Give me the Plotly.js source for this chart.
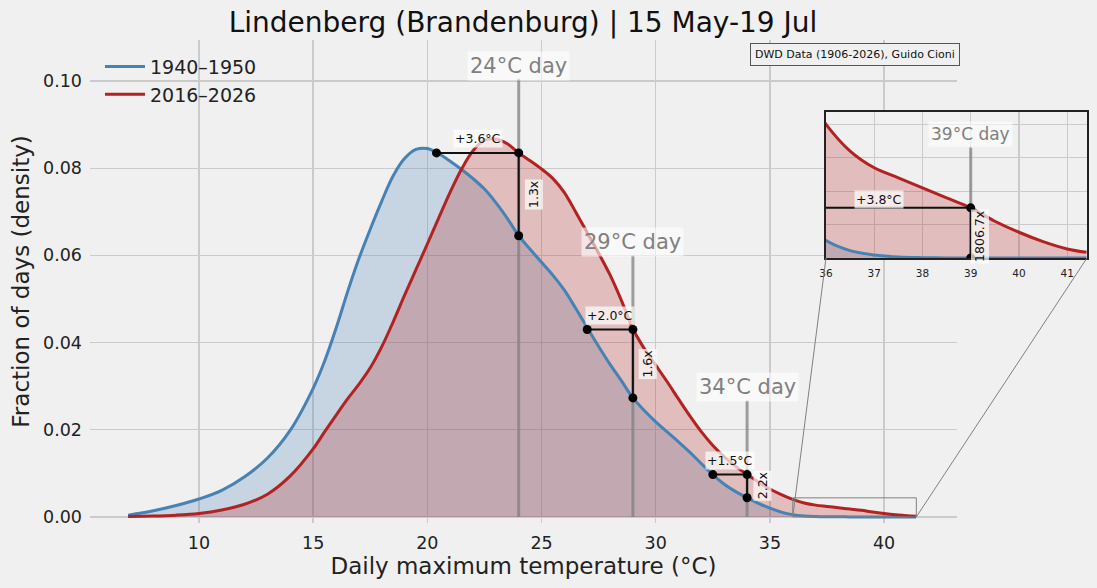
<!DOCTYPE html>
<html>
<head>
<meta charset="utf-8">
<script src="https://cdn.plot.ly/plotly-3.0.1.min.js"></script>
<style>
  html, body { margin: 0; padding: 0; background: #f0f0f0; }
  #chart { width: 1097px; height: 588px; }
</style>
</head>
<body>
<div id="chart"></div>
<script>
// ---------------- DATA ----------------
const tempGrid = [6.9, 8, 9, 10, 11, 12, 13, 14,
  15, 15.5, 16, 16.5, 17, 17.5, 18, 18.5, 19, 19.5, 20, 20.5, 21, 21.5, 22, 22.5,
  23, 23.5, 24, 24.5, 25, 25.5, 26, 26.5, 27, 27.5, 28, 28.5, 29, 29.5, 30, 30.5,
  31, 31.5, 32, 32.5, 33, 33.5, 34, 34.5, 35, 35.5, 36, 36.5, 37, 37.5, 38, 38.5,
  39, 39.5, 40, 40.5, 41, 41.4];

const density1940 = [0.0004, 0.0014, 0.0026, 0.0041, 0.0061, 0.0092, 0.0135, 0.0199,
  0.0295, 0.0357, 0.0432, 0.0515, 0.0592, 0.0660, 0.0724, 0.0782, 0.0822, 0.0843, 0.0845, 0.0833, 0.0816, 0.0797, 0.0776, 0.0752,
  0.0721, 0.0685, 0.0645, 0.0614, 0.0584, 0.0554, 0.0520, 0.0478, 0.0434, 0.0391, 0.0350, 0.0312, 0.0273, 0.0244, 0.0218, 0.0195,
  0.0172, 0.0148, 0.0122, 0.0097, 0.0075, 0.0058, 0.0044, 0.0031, 0.0020, 0.0011, 0.00052, 0.00022, 0.00009, 0.00003, 0.00001, 0.000003,
  0.000001, 0, 0, 0, 0, 0];

const density2016 = [0.0001, 0.0002, 0.0004, 0.0008, 0.0016, 0.0029, 0.0052, 0.0094,
  0.0156, 0.0195, 0.0233, 0.0270, 0.0304, 0.0342, 0.0390, 0.0447, 0.0508, 0.0567, 0.0626, 0.0686, 0.0745, 0.0798, 0.0840, 0.0864,
  0.0867, 0.0856, 0.0835, 0.0817, 0.0798, 0.0776, 0.0744, 0.0699, 0.0652, 0.0605, 0.0555, 0.0496, 0.0431, 0.0386, 0.0348, 0.0310,
  0.0270, 0.0231, 0.0195, 0.0164, 0.0138, 0.0116, 0.0097, 0.0080, 0.0064, 0.0051, 0.0040, 0.0032, 0.0027, 0.0024, 0.0021, 0.0018,
  0.0015, 0.0011, 0.00077, 0.00049, 0.00027, 0.00017];

const seriesNames = ['1940\u20131950', '2016\u20132026'];

const dayTemps     = [24, 29, 34, 39];
const shiftedTemps = [20.4, 27.0, 32.5, 35.2];
const redAtDay     = [0.0835, 0.0430, 0.0097, 0.0015];
const blueAtDay    = [0.0645, 0.0273, 0.0044, 0.00000083];
const shiftLabels  = ['+3.6°C', '+2.0°C', '+1.5°C', '+3.8°C'];
const ratioLabels  = ['1.3x', '1.6x', '2.2x', '1806.7x'];

const mainTicks  = [10, 15, 20, 25, 30, 35, 40];
const insetTicks = [36, 37, 38, 39, 40, 41];

// ---------------- STYLE / LAYOUT CONSTANTS ----------------
const FONT = 'DejaVu Sans';
const BLUE = '#4682b4', RED = '#b22222';
const BLUE_FILL = 'rgba(70,130,180,0.25)', RED_FILL = 'rgba(178,34,34,0.25)';
const GRID = '#cbcbcb';
const SMOOTH = 1.0;
const xMainRange = [5.23, 43.19], yMainRange = [-0.0014, 0.1094];
const xMainDom = [0, 0.8696], yMainDom = [0, 1];
const xInsetRange = [36, 41.41], yInsetRange = [0, 0.00437];
const xInsetDom = [0.7382, 1.0], yInsetDom = [0.5487, 0.851];

function paperX(v) { return xMainDom[0] + (v - xMainRange[0]) / (xMainRange[1] - xMainRange[0]) * (xMainDom[1] - xMainDom[0]); }
function paperY(v) { return yMainDom[0] + (v - yMainRange[0]) / (yMainRange[1] - yMainRange[0]) * (yMainDom[1] - yMainDom[0]); }

const traces = [];
function curveTraces(xa, ya, legend) {
  const out = [];
  out.push({x: tempGrid, y: density1940, xaxis: xa, yaxis: ya, type: 'scatter', mode: 'lines',
    line: {width: 0, shape: 'spline', smoothing: SMOOTH}, fill: 'tozeroy', fillcolor: BLUE_FILL,
    hoverinfo: 'skip', showlegend: false});
  out.push({x: tempGrid, y: density2016, xaxis: xa, yaxis: ya, type: 'scatter', mode: 'lines',
    line: {width: 0, shape: 'spline', smoothing: SMOOTH}, fill: 'tozeroy', fillcolor: RED_FILL,
    hoverinfo: 'skip', showlegend: false});
  out.push({x: tempGrid, y: density1940, xaxis: xa, yaxis: ya, type: 'scatter', mode: 'lines',
    name: seriesNames[0], line: {color: BLUE, width: 3, shape: 'spline', smoothing: SMOOTH},
    showlegend: legend, legendgroup: 'a'});
  out.push({x: tempGrid, y: density2016, xaxis: xa, yaxis: ya, type: 'scatter', mode: 'lines',
    name: seriesNames[1], line: {color: RED, width: 3, shape: 'spline', smoothing: SMOOTH},
    showlegend: legend, legendgroup: 'b'});
  return out;
}
traces.push(...curveTraces('x', 'y', true));
traces.push(...curveTraces('x2', 'y2', false));

const annotations = [];
dayTemps.forEach((T, i) => {
  const inset = (i === 3);
  const xa = inset ? 'x2' : 'x', ya = inset ? 'y2' : 'y';
  const off = inset ? 0.0018 : 0.017;
  const lab = inset ? 0.0004 : 0.003;
  const top = redAtDay[i] + off;
  traces.push({x: [T, T], y: [0, top], xaxis: xa, yaxis: ya, type: 'scatter', mode: 'lines',
    line: {color: 'rgba(128,128,128,0.75)', width: 3}, showlegend: false, hoverinfo: 'skip'});
  traces.push({x: [shiftedTemps[i], T, T], y: [redAtDay[i], redAtDay[i], blueAtDay[i]],
    xaxis: xa, yaxis: ya, type: 'scatter', mode: 'lines+markers',
    line: {color: '#111', width: 2}, marker: {color: '#000', size: 9},
    showlegend: false, hoverinfo: 'skip'});
  annotations.push({x: T, y: top + lab, xref: xa, yref: ya, text: T + '°C day', showarrow: false,
    xanchor: 'center', yanchor: 'middle',
    font: {family: FONT, size: inset ? 17 : 21, color: '#808080'},
    bgcolor: 'rgba(255,255,255,0.6)', borderpad: 2});
  annotations.push({x: (shiftedTemps[i] + T) / 2, y: redAtDay[i], xref: xa, yref: ya,
    text: shiftLabels[i], showarrow: false, yshift: inset ? 8 : 14, xanchor: 'center', yanchor: 'middle',
    font: {family: FONT, size: 12.5, color: '#111'}, bgcolor: 'rgba(255,255,255,0.7)', borderpad: 1});
  annotations.push({x: T, y: (redAtDay[i] + blueAtDay[i]) / 2 - (inset ? 0.0001 : 0), xref: xa, yref: ya,
    text: ratioLabels[i], showarrow: false, xshift: inset ? 9 : 15, textangle: -90,
    xanchor: 'center', yanchor: 'middle',
    font: {family: FONT, size: 12.5, color: '#111'}, bgcolor: 'rgba(255,255,255,0.7)', borderpad: 1});
});

annotations.push({xref: 'paper', yref: 'paper', x: 0.767, y: 0.969, xanchor: 'center', yanchor: 'middle',
  text: 'DWD Data (1906-2026), Guido Cioni',
  showarrow: false, font: {family: FONT, size: 11, color: '#111'}, bgcolor: '#f0f0f0',
  bordercolor: '#555', borderwidth: 1, borderpad: 4});

const shapes = [
  {type: 'rect', xref: 'x', yref: 'y', x0: xInsetRange[0], x1: xInsetRange[1], y0: yInsetRange[0], y1: yInsetRange[1],
   line: {color: '#808080', width: 1}, layer: 'above'},
  {type: 'line', xref: 'paper', yref: 'paper', x0: paperX(xInsetRange[0]), y0: paperY(yInsetRange[0]),
   x1: xInsetDom[0], y1: yInsetDom[0], line: {color: '#808080', width: 1}, layer: 'above'},
  {type: 'line', xref: 'paper', yref: 'paper', x0: paperX(xInsetRange[1]), y0: paperY(yInsetRange[0]),
   x1: xInsetDom[1], y1: yInsetDom[0], line: {color: '#808080', width: 1}, layer: 'above'}
];

const layout = {
  width: 1097, height: 588,
  paper_bgcolor: '#f0f0f0', plot_bgcolor: '#f0f0f0',
  margin: {l: 90, r: 10, t: 40, b: 65},
  font: {family: FONT, color: '#222'},
  title: {text: 'Lindenberg (Brandenburg) | 15 May-19 Jul', xref: 'paper', x: 0.4343, xanchor: 'center',
    yref: 'container', y: 0.962, yanchor: 'middle', font: {family: FONT, size: 28, color: '#111'}},
  showlegend: true,
  legend: {x: 0.010, y: 0.984, xanchor: 'left', yanchor: 'top', bgcolor: 'rgba(0,0,0,0)',
    font: {family: FONT, size: 19, color: '#222'}, tracegroupgap: 3, traceorder: 'normal', itemwidth: 40},
  xaxis: {domain: xMainDom, range: xMainRange, tickvals: mainTicks, showline: false, zeroline: false,
    gridcolor: GRID, gridwidth: 1.3, ticks: '', ticklabelstandoff: 7,
    tickfont: {family: FONT, size: 17.5, color: '#222'},
    title: {text: 'Daily maximum temperature (°C)', font: {family: FONT, size: 23, color: '#222'}, standoff: 6},
    anchor: 'y', automargin: false},
  yaxis: {domain: yMainDom, range: yMainRange, dtick: 0.02, tick0: 0, tickformat: '.2f', showline: false,
    zeroline: false, gridcolor: GRID, gridwidth: 1.3, ticks: '', ticklabelstandoff: 7,
    tickfont: {family: FONT, size: 17.5, color: '#222'},
    title: {text: 'Fraction of days (density)', font: {family: FONT, size: 23, color: '#222'}, standoff: 6},
    anchor: 'x', automargin: false},
  xaxis2: {domain: xInsetDom, range: xInsetRange, tickvals: insetTicks, anchor: 'y2',
    showline: true, mirror: true, linecolor: '#222', linewidth: 2, zeroline: false,
    gridcolor: GRID, gridwidth: 1.2, ticks: '', ticklabelstandoff: 4,
    tickfont: {family: FONT, size: 10.5, color: '#222'}},
  yaxis2: {domain: yInsetDom, range: yInsetRange, dtick: 0.001, tick0: 0, anchor: 'x2',
    showline: true, mirror: true, linecolor: '#222', linewidth: 2, zeroline: false,
    gridcolor: GRID, gridwidth: 1.2, showticklabels: false, ticks: ''},
  annotations: annotations,
  shapes: shapes
};

Plotly.newPlot('chart', traces, layout, {staticPlot: true, displayModeBar: false});
</script>
</body>
</html>
